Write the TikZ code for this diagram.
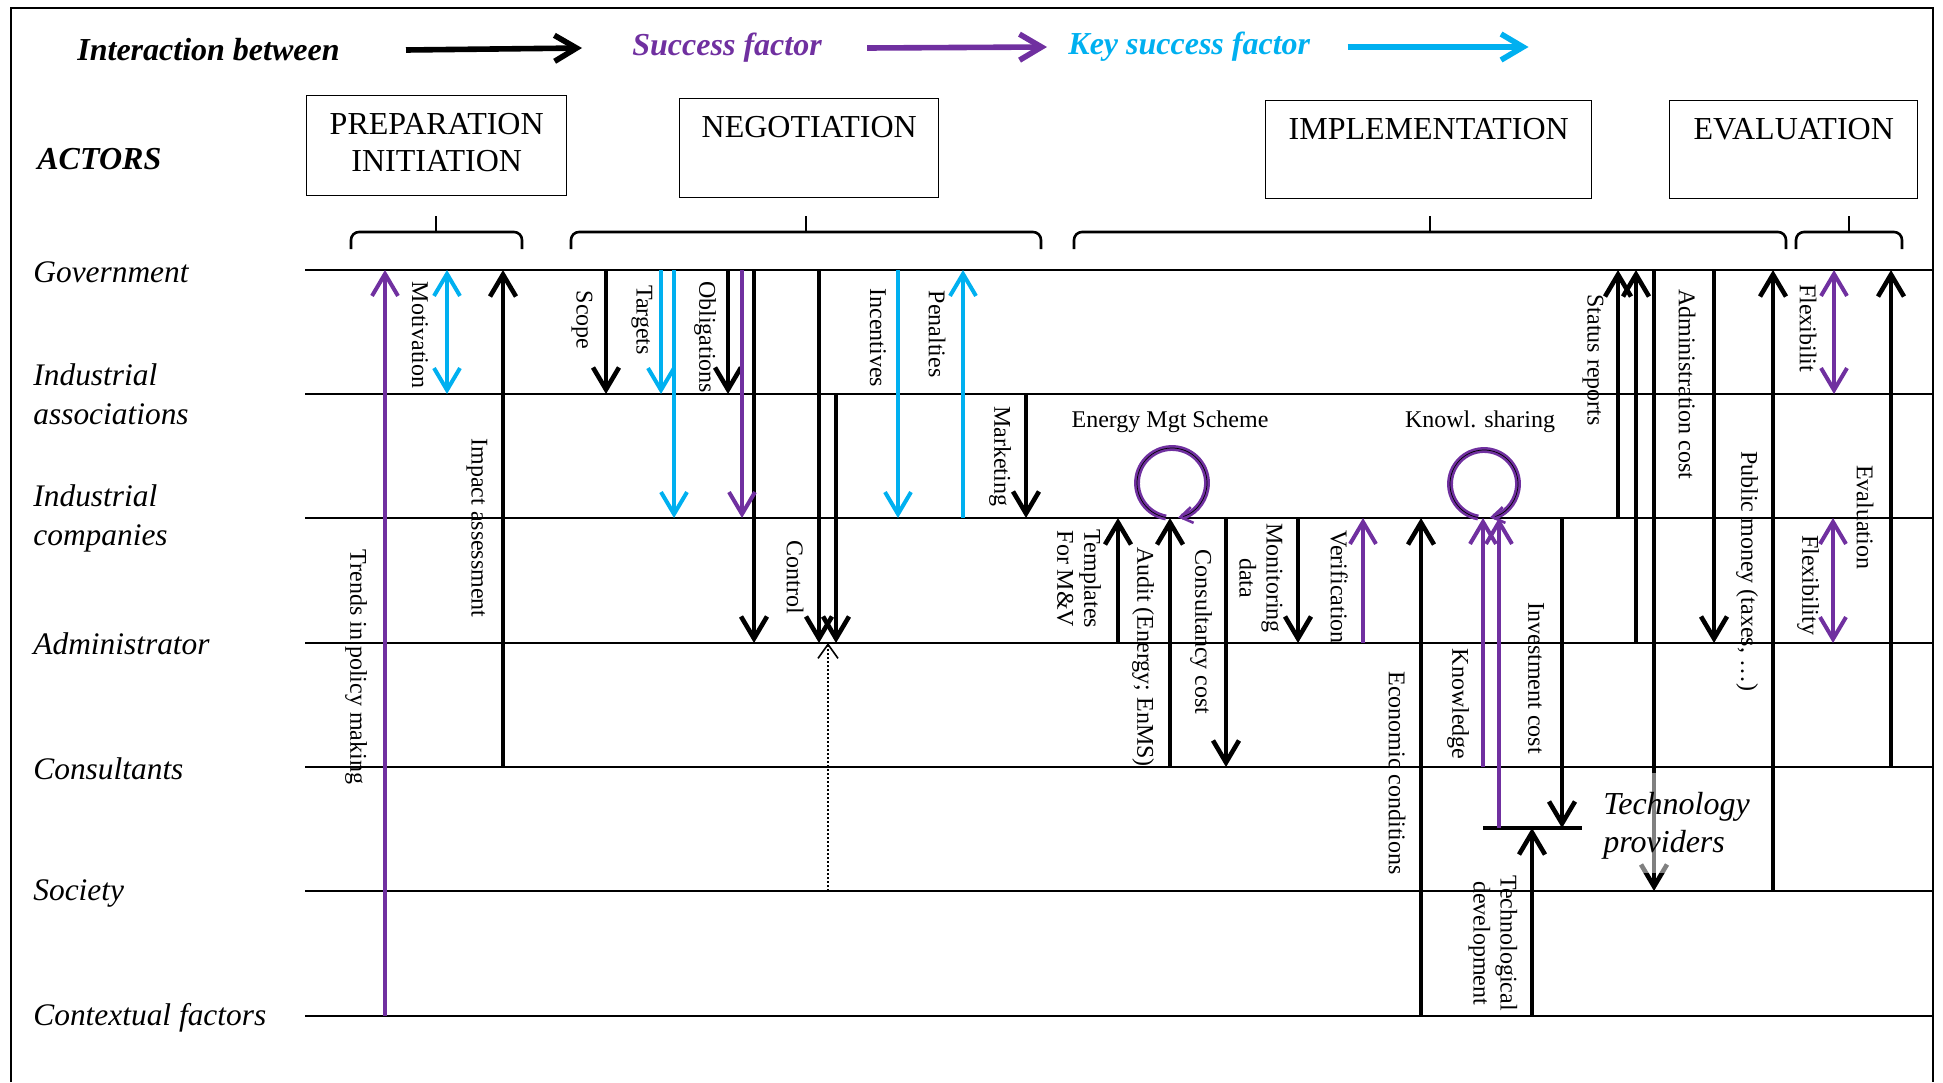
\documentclass[tikz,border=0pt]{standalone}
\usepackage{fontspec}
\setmainfont{Liberation Serif}
\usetikzlibrary{arrows.meta, positioning}
\definecolor{sfpurple}{HTML}{7030A0}
\definecolor{ksfblue}{HTML}{00B0F0}

\begin{document}
\begin{tikzpicture}[>={Straight Barb[length=11pt,width=13pt]}, x=0.5pt, y=-0.5pt,
  lane/.style={line width=1.2pt},
  flow/.style={->, line width=2.3pt},
  sflow/.style={->, line width=2pt, sfpurple},
  kflow/.style={->, line width=2pt, ksfblue},
  lbl/.style={rotate=-90, inner sep=0pt, align=center, font=\fontsize{12}{13.5}\selectfont},
  actor/.style={anchor=west, inner sep=0pt, align=left, font=\fontsize{15.7}{19.5}\selectfont\itshape},
  legend/.style={anchor=west, inner sep=0pt, font=\fontsize{16}{19}\selectfont\bfseries\itshape},
  phase/.style={draw, line width=0.7pt, anchor=north west, inner sep=0pt},
  phasetxt/.style={inner sep=0pt, align=center, font=\fontsize{16}{18.5}\selectfont},
  bracket/.style={line width=1.3pt, rounded corners=4pt},
  loopring/.style={->, >={Straight Barb[length=6pt,width=8pt]}, draw=sfpurple, double=black, double distance=0.35pt, line width=1.3pt}]

\useasboundingbox (0,0) rectangle (1943,1082);
\draw[line width=1pt] (11,1082) -- (11,8) -- (1933,8) -- (1933,1082);

% legend
\node[legend] (inter) at (77,50) {Interaction between};
\node[legend, text=sfpurple] (succ) at (632,48) {Success factor};
\node[legend, text=ksfblue] (key) at (1068,47) {Key success factor};
\draw[->, line width=2.8pt] ([xshift=33pt]inter.east) -- ([xshift=-25pt]succ.west);
\draw[->, line width=2.8pt, sfpurple] ([xshift=22.5pt]succ.east) -- ([xshift=-10.5pt]key.west);
\draw[->, line width=2.8pt, ksfblue] ([xshift=18.5pt]key.east) -- ++(181,0);

% phases
\node[phase, minimum width=130pt, minimum height=50pt] (prep) at (306,95) {};
\node[phase, minimum width=129.5pt, minimum height=49.5pt] (nego) at (679,98) {};
\node[phase, minimum width=163pt, minimum height=49pt] (impl) at (1265,100) {};
\node[phase, minimum width=124pt, minimum height=49pt] (eval) at (1669,100) {};
\node[phasetxt, below=9pt of prep.north] (prept) {PREPARATION\\INITIATION};
\node[phasetxt, below=9pt of nego.north] (negot) {NEGOTIATION};
\node[phasetxt, below=9pt of impl.north] (implt) {IMPLEMENTATION};
\node[phasetxt, below=9pt of eval.north] (evalt) {EVALUATION};

\foreach \l/\m/\r in {351/436/522, 571/806/1041, 1074/1430/1786, 1796/1849/1902} {
  \draw[bracket] (\l,249) -- (\l,232) -- (\r,232) -- (\r,249);
  \draw[bracket] (\m,232) -- (\m,216);
}

% actors
\foreach \y in {270,394,518,643,767,891,1016}
  \draw[lane] (305,\y) -- (1933,\y);
\node[actor, font=\fontsize{16}{19}\selectfont\bfseries\itshape] (actors) at (37,159) {ACTORS};
\node[actor] (gov) at (33,272) {Government};
\node[actor] (assoc) at (33,394) {Industrial\\associations};
\node[actor] (comp) at (33,518) {Industrial\\companies};
\node[actor] (admin) at (33,644) {Administrator};
\node[actor] (cons) at (33,769) {Consultants};
\node[actor] (soc) at (33,893) {Society};
\node[actor] (ctx) at (33,1018) {Contextual factors};

% interactions: x / from / to
\draw[line width=1.9pt] (1483,828) -- (1582,828);
\foreach \x/\a/\b in {503/767/270, 606/270/394, 728/270/394, 754/270/643, 819/270/643,
    836/394/643, 1026/394/518, 1118/643/518, 1170/767/518, 1226/518/767, 1298/518/643,
    1421/1016/518, 1562/518/828, 1532/1016/828, 1618/518/270, 1636/643/270,
    1654/270/891, 1714/270/643, 1773/891/270, 1891/767/270}
  \draw[flow] (\x,\a) -- (\x,\b);
\foreach \x/\a/\b in {385/1016/270, 742/270/518, 1363/643/518, 1483/767/518, 1499/828/518}
  \draw[sflow] (\x,\a) -- (\x,\b);
\foreach \x/\a/\b in {661/270/394, 674/270/518, 898/270/518, 963/518/270}
  \draw[kflow] (\x,\a) -- (\x,\b);
\draw[kflow, <->] (447,270) -- (447,394);
\draw[sflow, <->] (1834,270) -- (1834,394);
\draw[sflow, <->] (1833,518) -- (1833,643);
\draw[dash pattern=on 1pt off 1pt, line width=0.8pt, ->, >={Straight Barb[length=7pt,width=10pt]}] (828,891) -- (828,643);

% self loops
\node[inner sep=0pt, font=\fontsize{12}{14}\selectfont] (ems) at (1170,422) {Energy Mgt Scheme};
\node[inner sep=0pt, font=\fontsize{12}{14}\selectfont] (ks) at (1480,422) {Knowl. sharing};
\draw[loopring] (1172,483) ++(100:35) arc[start angle=100, end angle=440, radius=35];
\draw[loopring] (1484,484) ++(100:34) arc[start angle=100, end angle=440, radius=34];

\fill[white, opacity=0.5] (1600,773) rectangle (1771,873);
\node[actor, font=\fontsize{16}{19}\selectfont\itshape] (tech) at (1603,826) {Technology\\providers};

\foreach \x/\y/\t in {356/667/Trends in policy making, 420/335/Motivation, 477/528/Impact assessment,
    582/320/Scope, 642/320/Targets, 705/337/Obligations, 795/577/Control, 878/338/Incentives,
    937/334/Penalties, 1000/456/Marketing, 1079/579/{Templates\\For M\&V},
    1143/657/{Audit (Energy; EnMS)}, 1201/632/Consultancy cost, 1261/578/{Monitoring\\data},
    1339/587/Verification, 1397/773/Economic conditions, 1458/704/Knowledge,
    1536/678/Investment cost, 1493/943/{Technological\\development}, 1593/360/Status reports,
    1687/384/Administration cost, 1747/571/{Public money (taxes, …)}, 1808/328/Flexibilit,
    1865/517/Evaluation, 1808/585/Flexibility}
  \node[lbl] (f-\x-\y) at (\x,\y) {\t};

\end{tikzpicture}
\end{document}
